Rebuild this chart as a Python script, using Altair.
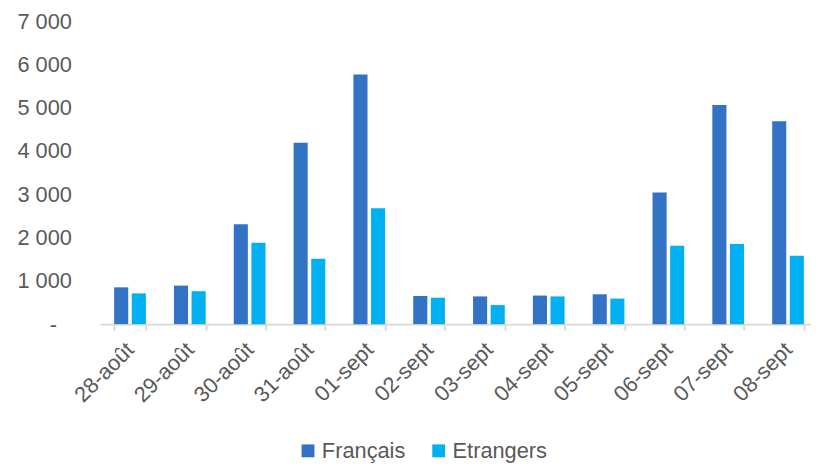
import altair as alt
import pandas as pd

dates = ["28-août", "29-août", "30-août", "31-août", "01-sept", "02-sept",
         "03-sept", "04-sept", "05-sept", "06-sept", "07-sept", "08-sept"]
francais = [850, 890, 2310, 4190, 5770, 650, 640, 660, 690, 3040, 5060, 4690]
etrangers = [710, 760, 1880, 1510, 2680, 610, 440, 640, 590, 1810, 1850, 1580]
series = ["Français", "Etrangers"]
colors = ["#3273C6", "#00B0F0"]
y_ticks = [1000, 2000, 3000, 4000, 5000, 6000, 7000]

rows = []
for i, d in enumerate(dates):
    rows.append({"date": d, "serie": series[0], "val": francais[i]})
    rows.append({"date": d, "serie": series[1], "val": etrangers[i]})
df = pd.DataFrame(rows)

FONT = "Liberation Sans"
TXT = "#595959"
yscale = alt.Scale(domain=[0, 7000])

bars = alt.Chart(df).mark_bar().encode(
    x=alt.X("date:N", sort=dates, title=None,
            scale=alt.Scale(paddingInner=0.47, paddingOuter=0.235),
            axis=alt.Axis(labelAngle=-45, labelAlign="right", labelBaseline="middle",
                          labelPadding=16, tickBand="extent", tickSize=6,
                          tickColor="#D9D9D9", domainColor="#D9D9D9", domainWidth=2,
                          tickWidth=2, labelFontSize=22, labelColor=TXT, labelFont=FONT)),
    xOffset=alt.XOffset("serie:N", sort=series, scale=alt.Scale(paddingInner=0.2)),
    y=alt.Y("val:Q", title=None, scale=yscale,
            axis=alt.Axis(values=y_ticks, orient="left",
                          grid=False, domain=False, ticks=False, labelPadding=29,
                          labelFontSize=22, labelColor=TXT, labelFont=FONT,
                          labelExpr="replace(format(datum.value, ','), ',', ' ')")),
    color=alt.Color("serie:N", sort=series, title=None,
                    scale=alt.Scale(domain=series, range=colors),
                    legend=alt.Legend(orient="none", legendX=199, legendY=423,
                                      direction="horizontal", symbolType="square",
                                      symbolSize=169, symbolStrokeWidth=0,
                                      labelFontSize=22, labelColor=TXT, labelFont=FONT,
                                      columnPadding=22, labelOffset=3)),
)

zero_axis = alt.Chart(df).mark_point(opacity=0).encode(
    y=alt.Y("val:Q", title=None, scale=yscale,
            axis=alt.Axis(values=[0], orient="left", offset=0, grid=False,
                          domain=False, ticks=False,
                          labelPadding=44, labelFontSize=22, labelColor=TXT,
                          labelFont=FONT, labelExpr="'-'")),
)

chart = alt.layer(bars, zero_axis).resolve_axis(y="independent").properties(
    width=725, height=306,
    autosize=alt.AutoSizeParams(type="none"),
    padding={"left": 93, "top": 11, "right": -7, "bottom": 140},
).configure_view(stroke=None)

chart.save("out.html", embed_options={"renderer": "svg", "actions": False})
